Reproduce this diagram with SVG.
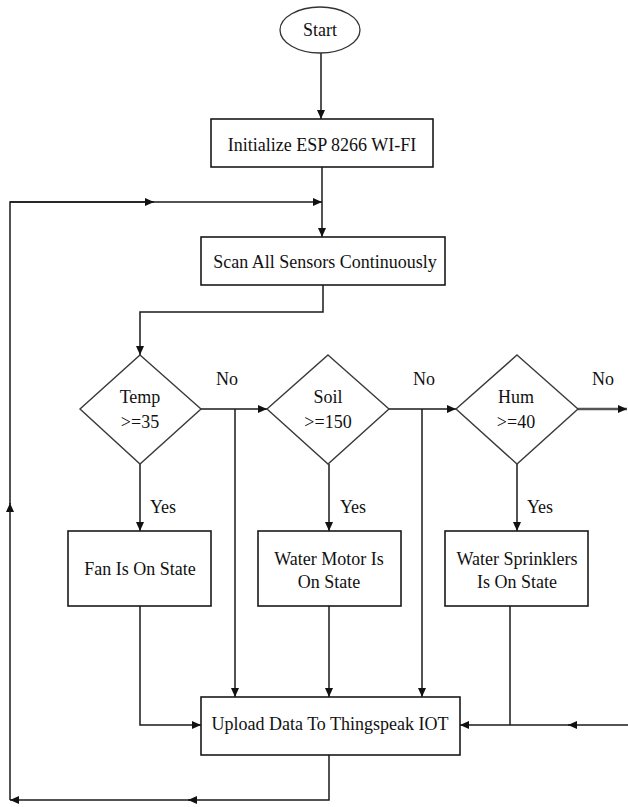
<svg xmlns="http://www.w3.org/2000/svg" width="628" height="807" viewBox="0 0 628 807">
<style>
text{font-family:'Liberation Serif','Times New Roman',serif;font-size:18px;fill:#111;text-anchor:middle}
.box{fill:#fff;stroke:#1a1a1a;stroke-width:1.6}
.dia{fill:#fff;stroke:#3a3a3a;stroke-width:1.4}
.ln{fill:none;stroke:#1a1a1a;stroke-width:1.5}
.a{marker-end:url(#ah)}
</style>
<defs>
<marker id="ah" markerWidth="10" markerHeight="8" refX="9" refY="4" orient="auto" markerUnits="userSpaceOnUse">
<path d="M0,0 L9,4 L0,8 z" fill="#111"/>
</marker>
</defs>
<rect width="628" height="807" fill="#fff"/>
<g id="connectors">
<path class="ln a" d="M321,53 V119"/>
<path class="ln a" d="M322,167 V237"/>
<path class="ln a" d="M10,800 V503"/>
<path class="ln" d="M10,504 V202 H152"/>
<path class="ln a" d="M10,202 H154"/>
<path class="ln a" d="M152,202 H322"/>
<path class="ln a" d="M323,285 V312 H140 V355"/>
<path class="ln a" d="M201,409 H267"/>
<path class="ln a" d="M235,409 V697"/>
<path class="ln a" d="M389,409 H456"/>
<path class="ln a" d="M422,409 V697"/>
<path class="ln a" d="M578,409 H627" style="stroke:#555;stroke-width:2.5"/>
<path class="ln a" d="M140,464 V531"/>
<path class="ln a" d="M329,464 V531"/>
<path class="ln a" d="M517,464 V531"/>
<path class="ln a" d="M140,606 V725 H201"/>
<path class="ln a" d="M329,606 V697"/>
<path class="ln" d="M510,606 V725"/>
<path class="ln a" d="M628,725 H568"/>
<path class="ln a" d="M570,725 H460"/>
<path class="ln a" d="M329,755 V800 H188"/>
<path class="ln a" d="M190,800 H10"/>
<text x="227" y="385">No</text>
<text x="424" y="385">No</text>
<text x="603" y="385">No</text>
<text x="163" y="513">Yes</text>
<text x="353" y="513">Yes</text>
<text x="540" y="513">Yes</text>
</g>
<g id="start">
<ellipse cx="320" cy="30" rx="40" ry="23" class="box" style="stroke:#333;stroke-width:1.3"/>
<text x="320" y="36">Start</text>
</g>
<g id="init">
<rect x="211" y="119" width="222" height="48" class="box"/>
<text x="322" y="151">Initialize ESP 8266 WI-FI</text>
</g>
<g id="scan">
<rect x="201" y="237" width="244" height="48" class="box"/>
<text x="325" y="268">Scan All Sensors Continuously</text>
</g>
<g id="temp">
<polygon points="140,355 201,409 140,464 80,409" class="dia"/>
<text x="140" y="403">Temp</text>
<text x="140" y="428">&gt;=35</text>
</g>
<g id="soil">
<polygon points="328,355 389,409 328,464 267,409" class="dia"/>
<text x="328" y="403">Soil</text>
<text x="328" y="428">&gt;=150</text>
</g>
<g id="hum">
<polygon points="517,355 578,409 517,464 456,409" class="dia"/>
<text x="516" y="403">Hum</text>
<text x="516" y="428">&gt;=40</text>
</g>
<g id="fan">
<rect x="68" y="531" width="143" height="75" class="box"/>
<text x="140" y="575">Fan Is On State</text>
</g>
<g id="motor">
<rect x="258" y="531" width="143" height="75" class="box"/>
<text x="329" y="565">Water Motor Is</text>
<text x="329" y="588">On State</text>
</g>
<g id="sprinklers">
<rect x="445" y="531" width="143" height="75" class="box"/>
<text x="517" y="565">Water Sprinklers</text>
<text x="517" y="588">Is On State</text>
</g>
<g id="upload">
<rect x="201" y="697" width="259" height="58" class="box"/>
<text x="330" y="730">Upload Data To Thingspeak IOT</text>
</g>
</svg>
